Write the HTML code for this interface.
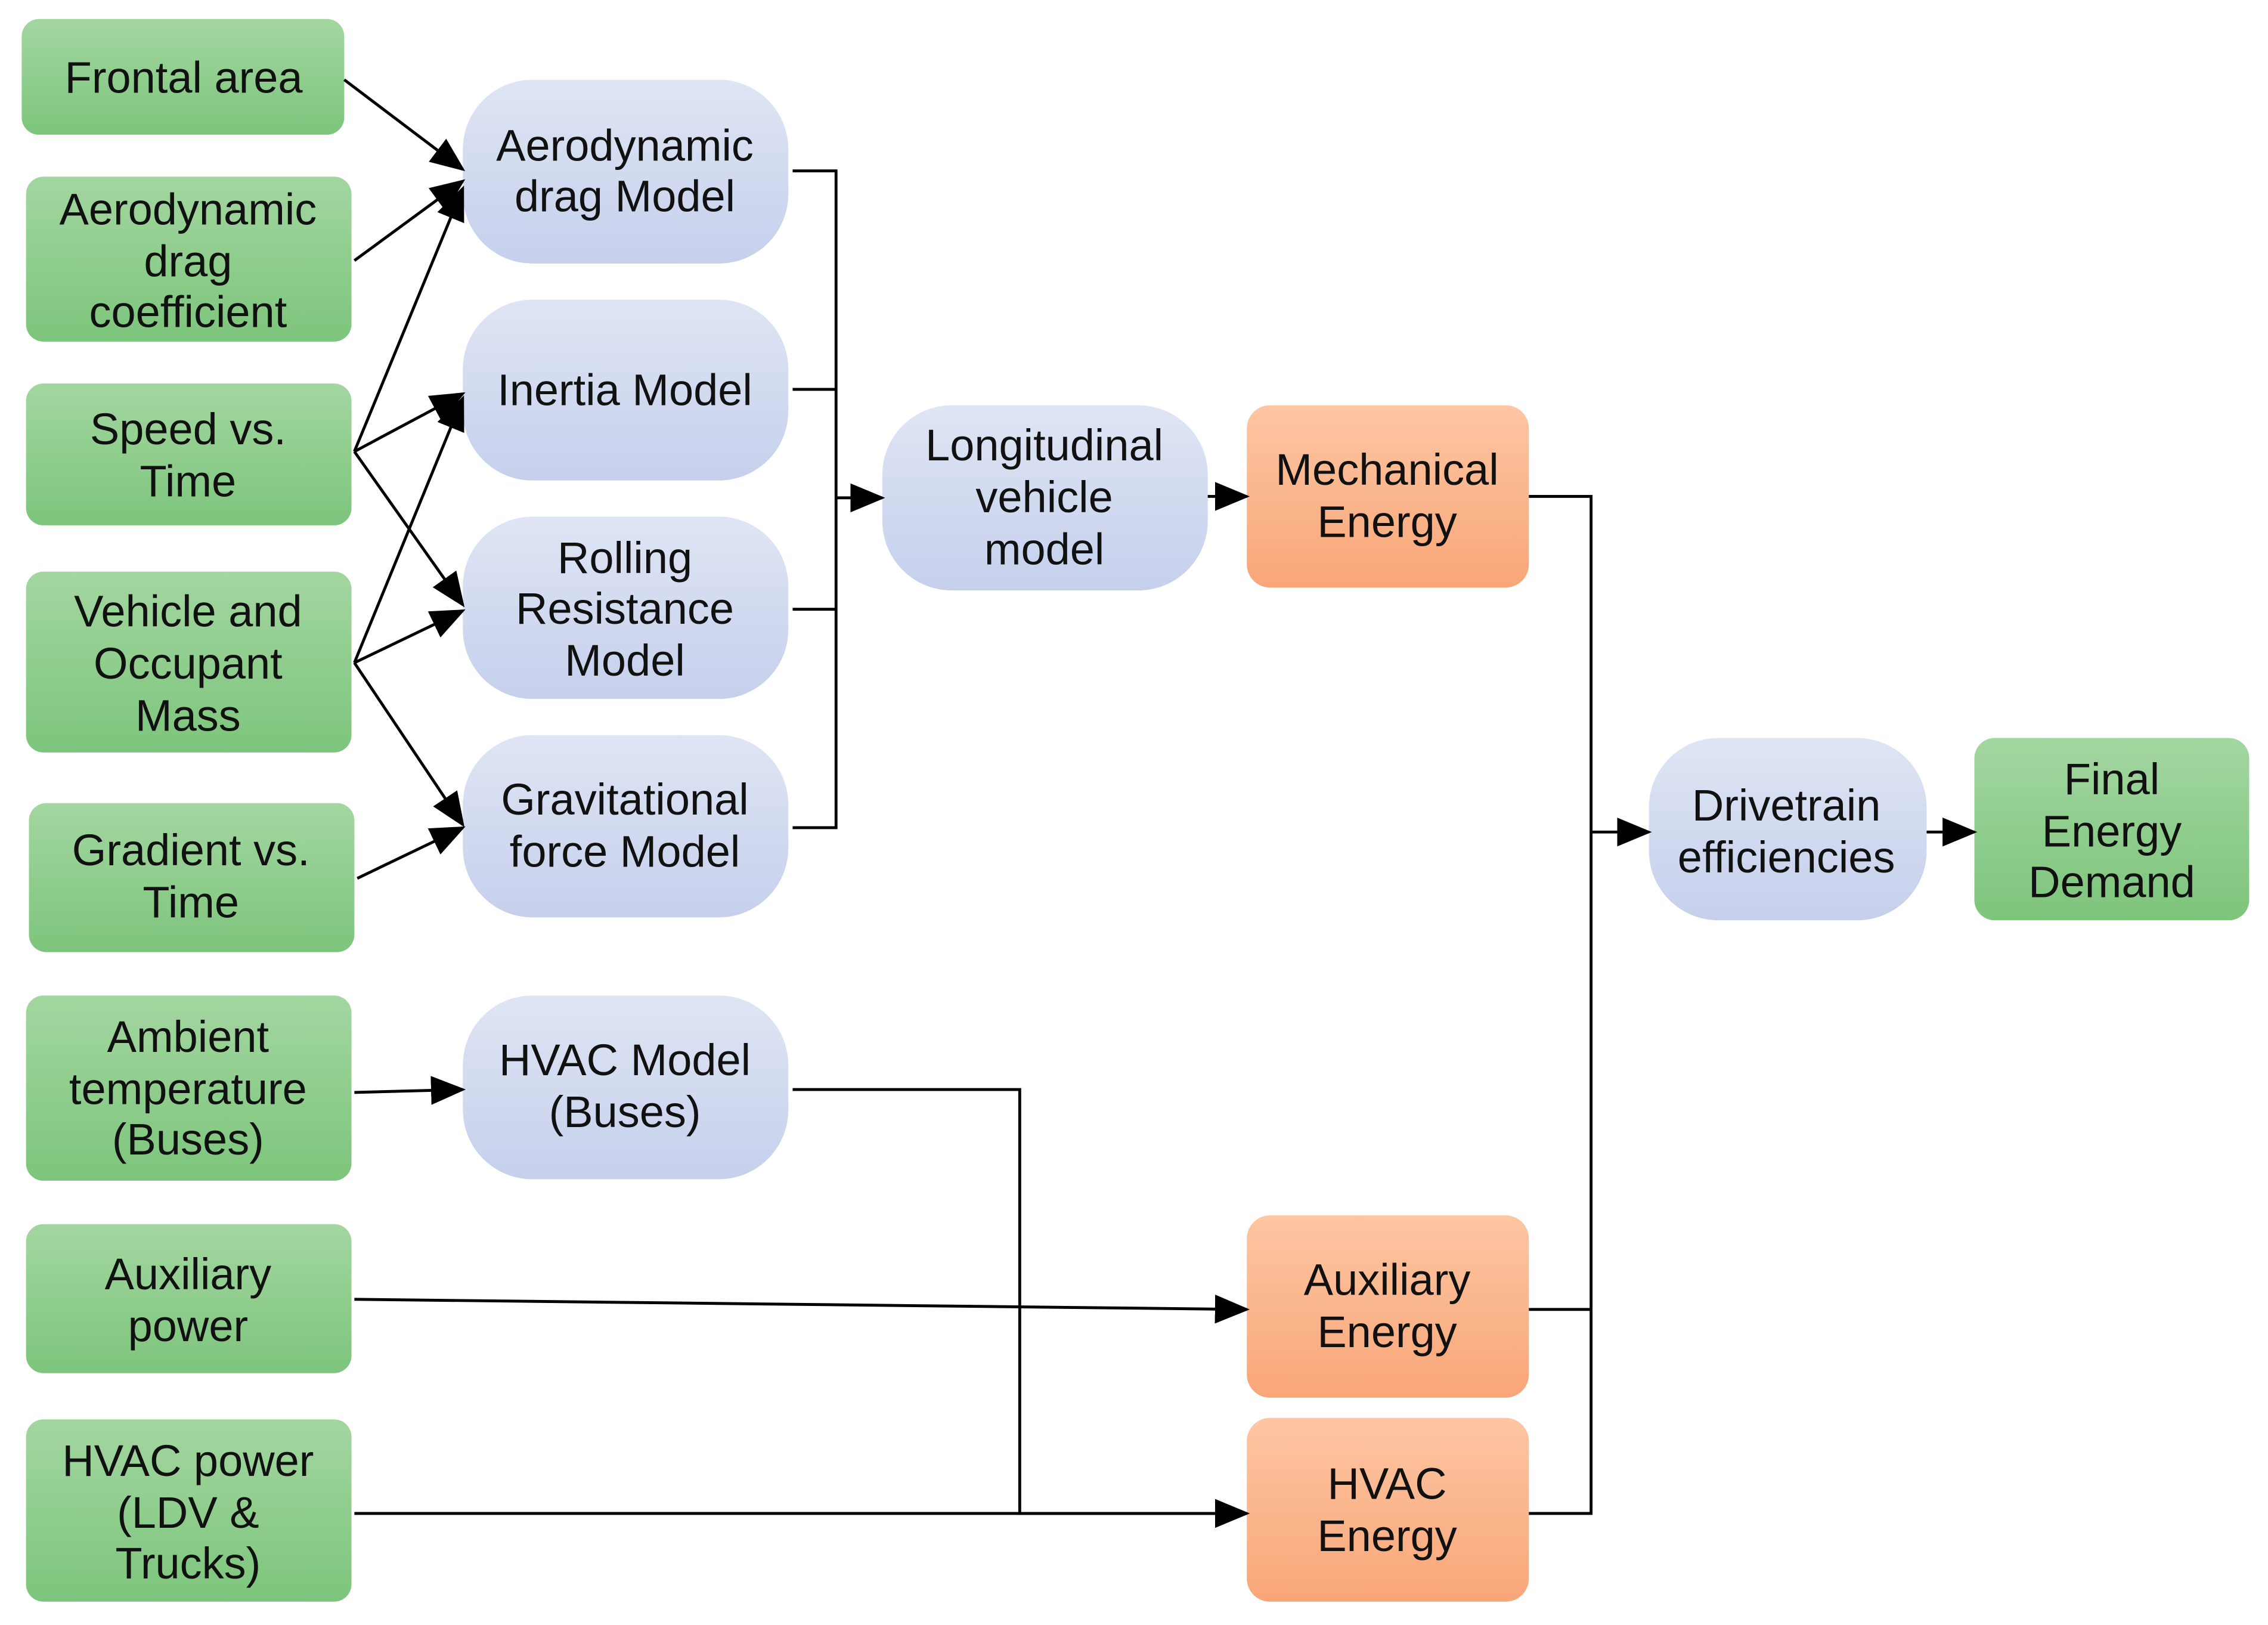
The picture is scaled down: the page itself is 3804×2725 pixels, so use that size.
<!DOCTYPE html>
<html><head><meta charset="utf-8"><style>
html,body{margin:0;padding:0;background:#fff;}
svg{display:block;}
text{font-family:"Liberation Sans",Arial,sans-serif;font-size:30.5px;fill:#111;text-anchor:middle;}
</style></head><body>
<svg width="3804" height="2725" viewBox="0 0 1568 1123" xmlns="http://www.w3.org/2000/svg">
<defs>
<linearGradient id="g" x1="0" y1="0" x2="0" y2="1"><stop offset="0" stop-color="#a3d6a0"/><stop offset="1" stop-color="#7dc57c"/></linearGradient>
<linearGradient id="b" x1="0" y1="0" x2="0" y2="1"><stop offset="0" stop-color="#dfe5f4"/><stop offset="1" stop-color="#c6d0ec"/></linearGradient>
<linearGradient id="o" x1="0" y1="0" x2="0" y2="1"><stop offset="0" stop-color="#fdc6a2"/><stop offset="1" stop-color="#f8a678"/></linearGradient>
<marker id="A" markerWidth="24" markerHeight="24" refX="22" refY="12" orient="auto" markerUnits="userSpaceOnUse" viewBox="0 0 24 24"><path d="M0,2 L24,12 L0,22 z" fill="#000"/></marker>
</defs>
<g stroke="none">
<rect x="15" y="13" width="223" height="80" rx="12" fill="url(#g)"/>
<rect x="18" y="122" width="225" height="114" rx="12" fill="url(#g)"/>
<rect x="18" y="265" width="225" height="98" rx="12" fill="url(#g)"/>
<rect x="18" y="395" width="225" height="125" rx="12" fill="url(#g)"/>
<rect x="20" y="555" width="225" height="103" rx="12" fill="url(#g)"/>
<rect x="18" y="688" width="225" height="128" rx="12" fill="url(#g)"/>
<rect x="18" y="846" width="225" height="103" rx="12" fill="url(#g)"/>
<rect x="18" y="981" width="225" height="126" rx="12" fill="url(#g)"/>
<rect x="1365" y="510" width="190" height="126" rx="14" fill="url(#g)"/>
<rect x="320" y="55" width="225" height="127" rx="48" fill="url(#b)"/>
<rect x="320" y="207" width="225" height="125" rx="48" fill="url(#b)"/>
<rect x="320" y="357" width="225" height="126" rx="48" fill="url(#b)"/>
<rect x="320" y="508" width="225" height="126" rx="48" fill="url(#b)"/>
<rect x="320" y="688" width="225" height="127" rx="48" fill="url(#b)"/>
<rect x="610" y="280" width="225" height="128" rx="48" fill="url(#b)"/>
<rect x="1140" y="510" width="192" height="126" rx="48" fill="url(#b)"/>
<rect x="862" y="280" width="195" height="126" rx="16" fill="url(#o)"/>
<rect x="862" y="840" width="195" height="126" rx="16" fill="url(#o)"/>
<rect x="862" y="980" width="195" height="127" rx="16" fill="url(#o)"/>
</g>
<g stroke="#000" stroke-width="2" fill="none">
<line x1="238" y1="55" x2="320" y2="117" marker-end="url(#A)"/>
<line x1="245" y1="180" x2="320" y2="125" marker-end="url(#A)"/>
<line x1="245" y1="312" x2="320" y2="130" marker-end="url(#A)"/>
<line x1="245" y1="312" x2="320" y2="272" marker-end="url(#A)"/>
<line x1="245" y1="312" x2="320" y2="418" marker-end="url(#A)"/>
<line x1="245" y1="458" x2="320" y2="275" marker-end="url(#A)"/>
<line x1="245" y1="458" x2="320" y2="422" marker-end="url(#A)"/>
<line x1="245" y1="458" x2="320" y2="570" marker-end="url(#A)"/>
<line x1="247" y1="607" x2="320" y2="572" marker-end="url(#A)"/>
<polyline points="548,118 578,118 578,572 548,572"/>
<line x1="548" y1="269" x2="578" y2="269"/>
<line x1="548" y1="421" x2="578" y2="421"/>
<line x1="578" y1="344" x2="610" y2="344" marker-end="url(#A)"/>
<line x1="835" y1="343" x2="862" y2="343" marker-end="url(#A)"/>
<polyline points="1057,343 1100,343 1100,1046 1057,1046"/>
<line x1="1057" y1="905" x2="1100" y2="905"/>
<line x1="1100" y1="575" x2="1140" y2="575" marker-end="url(#A)"/>
<line x1="1332" y1="575" x2="1365" y2="575" marker-end="url(#A)"/>
<line x1="245" y1="755" x2="320" y2="753" marker-end="url(#A)"/>
<polyline points="548,753 705,753 705,1046 862,1046" marker-end="url(#A)"/>
<line x1="245" y1="898" x2="862" y2="905" marker-end="url(#A)"/>
<line x1="245" y1="1046" x2="862" y2="1046" marker-end="url(#A)"/>
</g>
<text x="127" y="64">Frontal area</text>
<text x="130" y="155">Aerodynamic</text><text x="130" y="191">drag</text><text x="130" y="226">coefficient</text>
<text x="130" y="307">Speed vs.</text><text x="130" y="343">Time</text>
<text x="130" y="433">Vehicle and</text><text x="130" y="469">Occupant</text><text x="130" y="505">Mass</text>
<text x="132" y="598">Gradient vs.</text><text x="132" y="634">Time</text>
<text x="130" y="727">Ambient</text><text x="130" y="763">temperature</text><text x="130" y="798">(Buses)</text>
<text x="130" y="891">Auxiliary</text><text x="130" y="927">power</text>
<text x="130" y="1020">HVAC power</text><text x="130" y="1056">(LDV &amp;</text><text x="130" y="1091">Trucks)</text>
<text x="432" y="111">Aerodynamic</text><text x="432" y="146">drag Model</text>
<text x="432" y="280">Inertia Model</text>
<text x="432" y="396">Rolling</text><text x="432" y="431">Resistance</text><text x="432" y="467">Model</text>
<text x="432" y="563">Gravitational</text><text x="432" y="599">force Model</text>
<text x="432" y="743">HVAC Model</text><text x="432" y="779">(Buses)</text>
<text x="722" y="318">Longitudinal</text><text x="722" y="354">vehicle</text><text x="722" y="390">model</text>
<text x="959" y="335">Mechanical</text><text x="959" y="371">Energy</text>
<text x="959" y="895">Auxiliary</text><text x="959" y="931">Energy</text>
<text x="959" y="1036">HVAC</text><text x="959" y="1072">Energy</text>
<text x="1235" y="567">Drivetrain</text><text x="1235" y="603">efficiencies</text>
<text x="1460" y="549">Final</text><text x="1460" y="585">Energy</text><text x="1460" y="620">Demand</text>
</svg>
</body></html>
